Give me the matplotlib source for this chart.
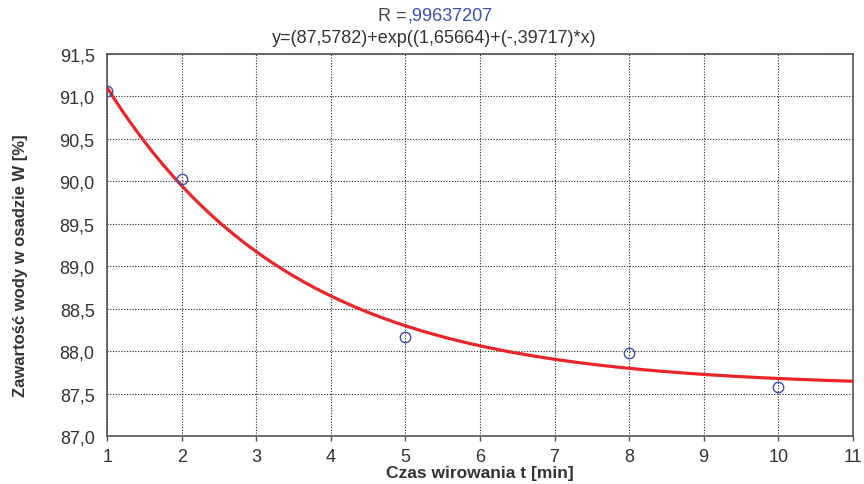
import numpy as np
import matplotlib
matplotlib.use("Agg")
import matplotlib.pyplot as plt
from matplotlib.ticker import FuncFormatter

# Measured points
t_min = [1, 2, 5, 8, 10]
water = [91.06, 90.02, 88.16, 87.98, 87.58]

# Fitted model parameters (from title)
a_const = 87.5782
b_const = 1.65664
c_const = -0.39717

x_ticks = [1, 2, 3, 4, 5, 6, 7, 8, 9, 10, 11]
y_ticks = [87.0, 87.5, 88.0, 88.5, 89.0, 89.5, 90.0, 90.5, 91.0, 91.5]

plt.rcParams['font.family'] = ['Liberation Sans', 'DejaVu Sans']

fig = plt.figure(figsize=(8.64, 4.85), dpi=100)
ax = fig.add_axes([0.124, 0.099, 0.863, 0.788])

xf = np.linspace(1, 11, 300)
yf = a_const + np.exp(b_const + c_const * xf)
ax.plot(xf, yf, color='#e8262a', lw=2.3, zorder=3)
ax.plot(t_min, water, 'o', mfc='none', mec='#3a4fb0', ms=7.5, mew=1.0, zorder=4)

ax.set_xlim(1, 11)
ax.set_ylim(87.0, 91.5)
ax.set_xticks(x_ticks)
ax.set_yticks(y_ticks)
ax.yaxis.set_major_formatter(FuncFormatter(lambda v, p: f"{v:.1f}".replace('.', ',')))
ax.grid(True, color='#222222', linestyle=(0, (1, 1.5)), lw=0.8)
ax.tick_params(labelsize=13, colors='#333333')
ax.tick_params(axis='y', length=0, pad=9)
ax.tick_params(axis='x', length=3.5, width=1.0, color='#555555', direction='out', pad=5)
for s in ax.spines.values():
    s.set_color('#555555')
    s.set_linewidth(1.2)

ax.set_xlabel('Czas wirowania t [min]', fontsize=12.5, fontweight='bold', color='#333333')
ax.set_ylabel('Zawartość wody w osadzie W [%]', fontsize=12, fontweight='bold', color='#333333')
ax.xaxis.set_label_coords(0.5, -0.077)
ax.yaxis.set_label_coords(-0.106, 0.448)

fig.text(0.471, 0.966, 'R =', ha='right', va='center', fontsize=13, color='#444444')
fig.text(0.471, 0.966, ',99637207', ha='left', va='center', fontsize=13, color='#3a4fb0')
fig.text(0.503, 0.921, 'y=(87,5782)+exp((1,65664)+(-,39717)*x)', ha='center', va='center', fontsize=13, color='#333333')

fig.savefig('out.png', dpi=100)
